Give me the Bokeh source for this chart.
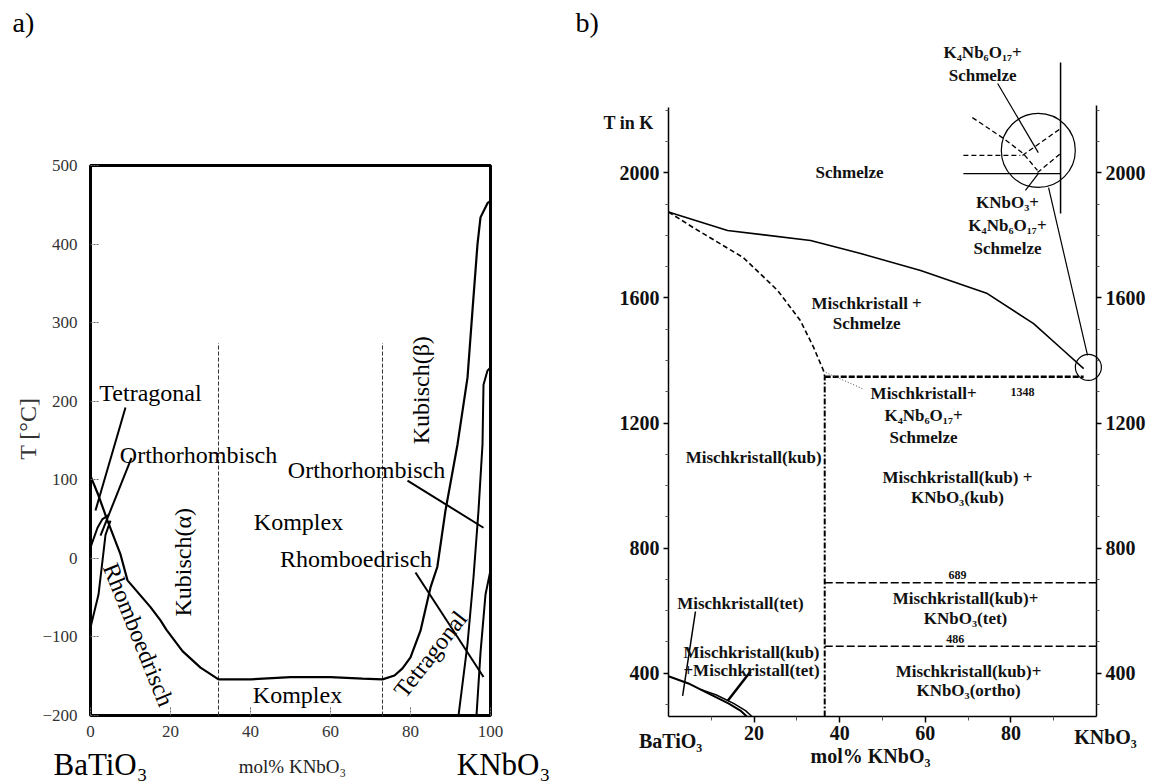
from bokeh.plotting import figure
from bokeh.layouts import row
from bokeh.models import FixedTicker, ColumnDataSource, Range1d, LinearAxis
from bokeh.core.properties import value
from bokeh.embed import file_html
from bokeh.resources import INLINE

SERIF = "Liberation Serif, DejaVu Serif"

# ---------------- a) BaTiO3 - KNbO3, phase boundaries in degC ----------------
a_ticks_x = [0, 20, 40, 60, 80, 100]
a_ticks_t = [-200, -100, 0, 100, 200, 300, 400, 500]
a_x_min, a_x_max = 0, 100
a_t_min, a_t_max = -200, 500

# cubic boundary: BaTiO3 side, "Komplex" plateau, KNbO3 side
cubic_x = [0, 2, 4.25, 7.5, 9.25, 15, 17.5, 19, 23, 27.5, 32, 40, 50, 60, 68, 73, 76, 78, 80, 82.5,
           85, 86.7, 88.75, 91.75, 94.25, 95.5, 96.75, 97.5, 99.25, 100]
cubic_t = [105, 80, 48, 5, -28, -62, -79, -91, -118, -139, -154, -154, -151, -151, -153, -154, -149,
           -140, -126, -92, -37, -11, 61, 145, 230, 316, 400, 434, 452, 455]
# tetragonal / orthorhombic boundary of KNbO3
knbo3_to_x = [92, 94.25, 95.75, 97, 98, 98.25, 99.25, 100]
knbo3_to_t = [-200, -109, -24, 61, 145, 221, 239, 243]
# orthorhombic / rhombohedral boundary of KNbO3
knbo3_or_x = [96.5, 97.5, 98.75, 100]
knbo3_or_t = [-200, -120, -46, -15]
# boundaries on the BaTiO3 side
batio3_to_x = [0, 1.75, 3, 4.5]
batio3_to_t = [14, 39, 50, 55]
batio3_or_x = [0, 2, 3, 3.75, 5]
batio3_or_t = [-88, -46, -3, 30, 48]
# leader lines (start, end)
a_lead_x = [[8.75, 1.25], [10.25, 2.5], [79.25, 98.25], [81.25, 98.25]]
a_lead_t = [[192, 61], [128, 29], [99, 39], [-18, -151]]
# limits of the "Komplex" region
komplex_x = [32, 73]
komplex_top = 274

a_text = ["Tetragonal", "Orthorhombisch", "Kubisch(α)", "Komplex", "Rhomboedrisch", "Komplex",
          "Orthorhombisch", "Kubisch(β)", "Rhomboedrisch", "Tetragonal"]
a_text_x = [15, 27, 23, 52, 12, 51.75, 69, 82.5, 66.4, 85]
a_text_t = [211, 132, -5, 46, -97, -174, 113, 214, -1, -122]
a_text_angle = [0, 0, 90, 0, -68, 0, 0, 90, 0, 52]

# ---------------- b) BaTiO3 - KNbO3, phase diagram in K ----------------
b_ticks_x = [20, 40, 60, 80]
b_minor_x = [10, 30, 50, 70, 90]
b_ticks_k = [400, 800, 1200, 1600, 2000]
b_minor_k = [300, 500, 600, 700, 900, 1000, 1100, 1300, 1400, 1500, 1700, 1800, 1900, 2100, 2200]
b_k_min = 261
axis_top_left = 2209
axis_top_right = 2216

liquidus_x = [0, 13.8, 33.2, 44.9, 58.9, 74.5, 85.3, 92.3, 97]
liquidus_k = [1875, 1816, 1784, 1742, 1688, 1614, 1518, 1432, 1374]
solidus_x = [0, 5.8, 17.5, 25.5, 30.8, 33.9, 36.2, 36.5]
solidus_k = [1875, 1825, 1729, 1624, 1528, 1442, 1368, 1348]

x_limit = 36.5          # solubility limit of the mixed crystal
t_eutectic = 1348
t_eut_end = 97
t_tet = 689
t_ortho = 486

# tetragonal mixed crystal (double line near BaTiO3)
tet1_x = [0, 5, 10, 14, 16.8, 18.3]
tet1_k = [390, 365, 330, 303, 280, 261]
tet2_x = [7.5, 11.2, 15.2, 18, 19.5]
tet2_k = [348, 330, 303, 280, 261]

# enlarged detail near KNbO3 melting
zoom_vert_x = [91.6, 91.6]
zoom_vert_k = [2353, 1870]
zoom_solid_x = [68.9, 91.6]
zoom_solid_k = [1998, 1998]
zoom_dash_x = [[68.9, 82.2], [71.0, 78.0, 82.9, 86.2], [82.7, 91.6], [86.2, 91.6]]
zoom_dash_k = [[2056, 2056], [2177, 2113, 2062, 2008], [2056, 2142], [2001, 2062]]
b_lead_x = [[76.9, 86.4], [83.4, 86.4], [88.8, 97.9], [19.2, 13.8]]
b_lead_k = [[2286, 2065], [1944, 1998], [1953, 1416], [406, 311]]
tet_lead_x = [6.3, 3.3]
tet_lead_k = [597, 327]
mk_lead_x = [45.3, 36.7]
mk_lead_k = [1310, 1362]
big_circle = (86.4, 2072)
small_circle = (98.1, 1378)

b_text = ["Schmelze", "Mischkristall +", "Schmelze", "K₄Nb₆O₁₇+", "Schmelze", "KNbO₃+",
          "K₄Nb₆O₁₇+", "Schmelze", "Mischkristall+", "K₄Nb₆O₁₇+", "Schmelze",
          "Mischkristall(kub) +", "KNbO₃(kub)", "Mischkristall(kub)+", "KNbO₃(tet)",
          "Mischkristall(kub)+", "KNbO₃(ortho)", "Mischkristall(kub)", "Mischkristall(tet)",
          "Mischkristall(kub)", "+Mischkristall(tet)"]
b_text_x = [42.3, 46.3, 46.3, 73.4, 73.4, 79.2, 79.2, 79.2, 59.6, 59.6, 59.6, 67.5, 67.5, 69.4,
            69.4, 70.1, 70.1, 19.9, 16.8, 19.4, 19.4]
b_text_k = [2001, 1582, 1518, 2385, 2312, 1905, 1832, 1758, 1294, 1224, 1154, 1026, 962, 639, 575,
            405, 344, 1090, 623, 466, 408]


def bare_figure(width, x_range, y_range):
    p = figure(width=width, height=783, x_range=x_range, y_range=y_range, title=None,
               x_axis_location=None, y_axis_location=None, min_border=0,
               output_backend="svg", toolbar_location=None)
    p.grid.visible = False
    p.outline_line_color = None
    p.background_fill_color = "white"
    p.border_fill_color = "white"
    return p


# ======================= panel a =======================
pa = bare_figure(560, Range1d(-22.5, 117.5), Range1d(-286.5, 710))

xa = LinearAxis(fixed_location=a_t_min, bounds=(a_x_min, a_x_max), ticker=FixedTicker(ticks=a_ticks_x))
ya = LinearAxis(fixed_location=a_x_min, bounds=(a_t_min, a_t_max), ticker=FixedTicker(ticks=a_ticks_t))
pa.add_layout(xa, "below")
pa.add_layout(ya, "left")
for ax in (xa, ya):
    ax.axis_line_color = None
    ax.major_tick_in = 8
    ax.major_tick_out = 0
    ax.major_tick_line_color = "#666666"
    ax.major_tick_line_dash = "2 1"
    ax.minor_tick_line_color = None
    ax.major_label_text_font = SERIF
    ax.major_label_text_font_size = "17px"
    ax.major_label_text_color = "#333333"
xa.major_label_standoff = 10
ya.major_label_standoff = 13

# frame of the diagram
pa.quad(left=[a_x_min], right=[a_x_max], bottom=[a_t_min], top=[a_t_max], fill_color=None,
        line_color="black", line_width=3)

pa.segment(x0=komplex_x, y0=[a_t_min] * len(komplex_x), x1=komplex_x,
           y1=[komplex_top] * len(komplex_x), line_color="#333333", line_width=1, line_dash="4 2")
pa.line(cubic_x, cubic_t, line_color="black", line_width=2.2)
pa.line(knbo3_to_x, knbo3_to_t, line_color="black", line_width=2)
pa.line(knbo3_or_x, knbo3_or_t, line_color="black", line_width=2)
pa.line(batio3_to_x, batio3_to_t, line_color="black", line_width=2)
pa.line(batio3_or_x, batio3_or_t, line_color="black", line_width=2)
pa.multi_line(a_lead_x, a_lead_t, line_color="black", line_width=2)

src_a = ColumnDataSource(dict(x=a_text_x, y=a_text_t, text=a_text, angle=a_text_angle))
pa.text(x="x", y="y", text="text", angle="angle", angle_units="deg", source=src_a,
        text_font=value("Liberation Serif"), text_font_size="24px", text_align="center",
        text_baseline="middle", text_color="black")

# panel letter, axis titles and end members
pa.text(x=[-19.5], y=[682], text=["a)"], text_font=value("Liberation Serif"),
        text_font_size="28px", text_align="left", text_baseline="middle", text_color="black")
pa.text(x=[-15.75], y=[165], text=["T [°C]"], angle=90, angle_units="deg",
        text_font=value("Liberation Serif"), text_font_size="24px", text_align="center",
        text_baseline="middle", text_color="#333333")
pa.text(x=[2.5, 103.25], y=[-262, -262], text=["BaTiO₃", "KNbO₃"],
        text_font=value("Liberation Serif"), text_font_size="31px", text_align="center",
        text_baseline="middle", text_color="black")
pa.text(x=[50.5], y=[-265], text=["mol% KNbO₃"], text_font=value("Liberation Serif"),
        text_font_size="19px", text_align="center", text_baseline="middle", text_color="#222222")

# ======================= panel b =======================
pb = bare_figure(592, Range1d(-25.23, 113.08), Range1d(46.8, 2551.6))

xb = LinearAxis(fixed_location=b_k_min, bounds=(0, 100),
                ticker=FixedTicker(ticks=b_ticks_x, minor_ticks=b_minor_x))
yb_l = LinearAxis(fixed_location=0, bounds=(b_k_min, axis_top_left),
                  ticker=FixedTicker(ticks=b_ticks_k, minor_ticks=b_minor_k))
yb_r = LinearAxis(fixed_location=100, bounds=(b_k_min, axis_top_right),
                  ticker=FixedTicker(ticks=b_ticks_k, minor_ticks=b_minor_k))
pb.add_layout(xb, "below")
pb.add_layout(yb_l, "left")
pb.add_layout(yb_r, "right")
for ax in (xb, yb_l, yb_r):
    ax.axis_line_color = "black"
    ax.axis_line_width = 1.5
    ax.major_tick_out = 5
    ax.major_tick_in = 0
    ax.major_tick_line_width = 1.5
    ax.minor_tick_out = 3
    ax.minor_tick_in = 0
    ax.minor_tick_line_color = "#555555"
    ax.major_label_standoff = 4
    ax.major_label_text_font = SERIF
    ax.major_label_text_font_style = "bold"
    ax.major_label_text_font_size = "20px"
    ax.major_label_text_color = "#111111"
xb.major_tick_out = 6
xb.minor_tick_out = 4
xb.major_label_standoff = 3

pb.line(liquidus_x, liquidus_k, line_color="black", line_width=1.6)
pb.line(solidus_x, solidus_k, line_color="black", line_width=1.6, line_dash="5 3")
pb.line([x_limit, t_eut_end], [t_eutectic, t_eutectic], line_color="black", line_width=2.4,
        line_dash="6 2")
pb.line([x_limit, x_limit], [b_k_min, t_eutectic], line_color="black", line_width=2,
        line_dash="6 2 2 2")
pb.multi_line([[x_limit, 100], [x_limit, 100]], [[t_tet, t_tet], [t_ortho, t_ortho]],
              line_color="black", line_width=1.4, line_dash="8 3")
pb.line(tet1_x, tet1_k, line_color="black", line_width=2)
pb.line(tet2_x, tet2_k, line_color="black", line_width=1.5)
pb.line(tet_lead_x, tet_lead_k, line_color="black", line_width=1.5)
pb.line(mk_lead_x, mk_lead_k, line_color="#444444", line_width=1, line_dash="1 2")

pb.line(zoom_vert_x, zoom_vert_k, line_color="black", line_width=1.5)
pb.line(zoom_solid_x, zoom_solid_k, line_color="black", line_width=1.2)
pb.multi_line(zoom_dash_x, zoom_dash_k, line_color="black", line_width=1.3, line_dash="5 3")
pb.multi_line(b_lead_x, b_lead_k, line_color="black", line_width=[1.2, 1.2, 1.2, 2.5])
pb.scatter([big_circle[0]], [big_circle[1]], marker="circle", size=74, fill_color=None,
           line_color="black", line_width=1.2)
pb.scatter([small_circle[0]], [small_circle[1]], marker="circle", size=26, fill_color=None,
           line_color="black", line_width=1.2)

src_b = ColumnDataSource(dict(x=b_text_x, y=b_text_k, text=b_text))
pb.text(x="x", y="y", text="text", source=src_b, text_font=value("Liberation Serif"),
        text_font_style="bold", text_font_size="17px", text_align="center",
        text_baseline="middle", text_color="#111111")

# temperatures of the invariant lines
pb.text(x=[82.7, 67.5, 67.0], y=[t_eutectic, t_tet, t_ortho],
        text=[str(t_eutectic), str(t_tet), str(t_ortho)], y_offset=[15, -8, -7],
        text_font=value("Liberation Serif"), text_font_style="bold", text_font_size="12px",
        text_align="center", text_baseline="middle", text_color="#111111")

# panel letter, axis titles and end members
pb.text(x=[-21.7], y=[2481], text=["b)"], text_font=value("Liberation Serif"),
        text_font_size="28px", text_align="left", text_baseline="middle", text_color="black")
pb.text(x=[-9.35, 0.5, 47.2, 102.1], y=[2161, 184, 136, 194],
        text=["T in K", "BaTiO₃", "mol% KNbO₃", "KNbO₃"],
        text_font=value("Liberation Serif"), text_font_style="bold",
        text_font_size=["18px", "20px", "20px", "20px"], text_align="center",
        text_baseline="middle", text_color="#111111")

layout = row(pa, pb, spacing=0)
open("out.html", "w").write(file_html(layout, INLINE))
